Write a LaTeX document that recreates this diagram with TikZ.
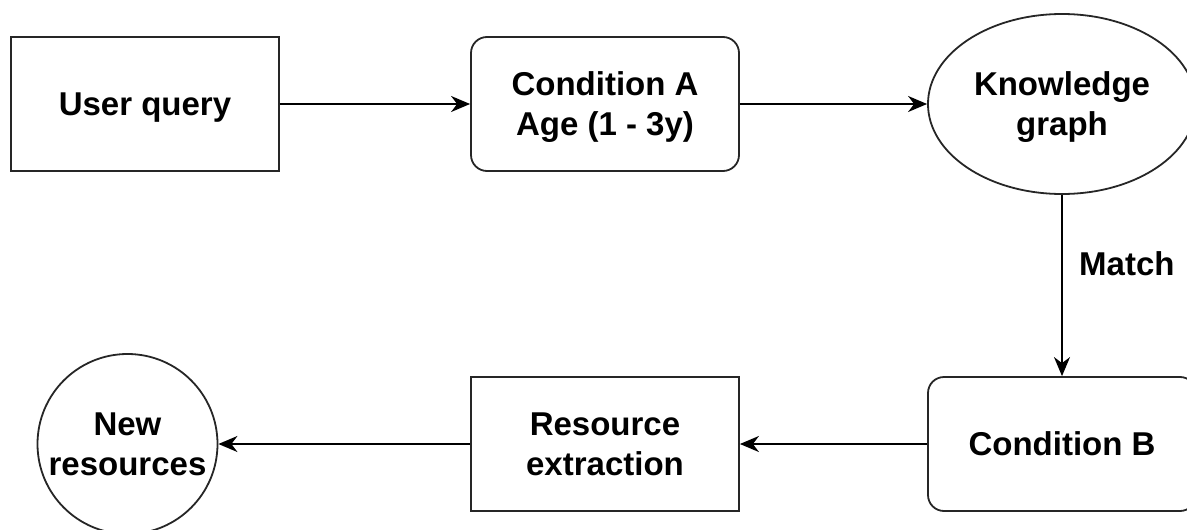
\documentclass[tikz,border=0pt]{standalone}
\usepackage{fontspec}
\setmainfont{Liberation Sans}
\usetikzlibrary{arrows.meta,shapes.geometric,calc}

\begin{document}
\begin{tikzpicture}[x=1pt,y=-1pt,
	every node/.style={font=\fontsize{33}{40}\selectfont\bfseries, align=center, text depth=0pt},
	box/.style={draw=black!85, line width=1.8pt, minimum width=268pt, minimum height=134pt, inner sep=0pt},
	rbox/.style={box, rounded corners=16pt},
	link/.style={line width=1.8pt, -{Stealth[length=19pt,width=16pt,inset=6pt]}}]
	
	\clip (0,0) rectangle (1187,530);
	
	\coordinate (p1) at (145,104);
	\coordinate (p2) at (605,104);
	\coordinate (p3) at (1062,104);
	\coordinate (p4) at (1062,444);
	\coordinate (p5) at (605,444);
	\coordinate (p6) at (127.5,444);
	
	\node[box] (query) at (p1) {User query};
	\node[rbox] (conda) at (p2) {Condition A\\Age (1 - 3y)};
	\node[ellipse, draw=black!85, line width=1.8pt, minimum width=268pt, minimum height=180pt, inner sep=0pt] (kg) at (p3) {Knowledge\\graph};
	\node[rbox] (condb) at (p4) {Condition B};
	\node[box] (extract) at (p5) {Resource\\extraction};
	\node[circle, draw=black!85, line width=1.8pt, minimum size=180pt, inner sep=0pt] (newres) at (p6) {New\\resources};
	
	\draw[link] (query) -- (conda);
	\draw[link] (conda) -- (kg);
	\draw[link] (kg) -- node[right=13pt, pos=0.38] (match) {Match} (condb);
	\draw[link] (condb) -- (extract);
	\draw[link] (extract) -- (newres);
	
\end{tikzpicture}
\end{document}
